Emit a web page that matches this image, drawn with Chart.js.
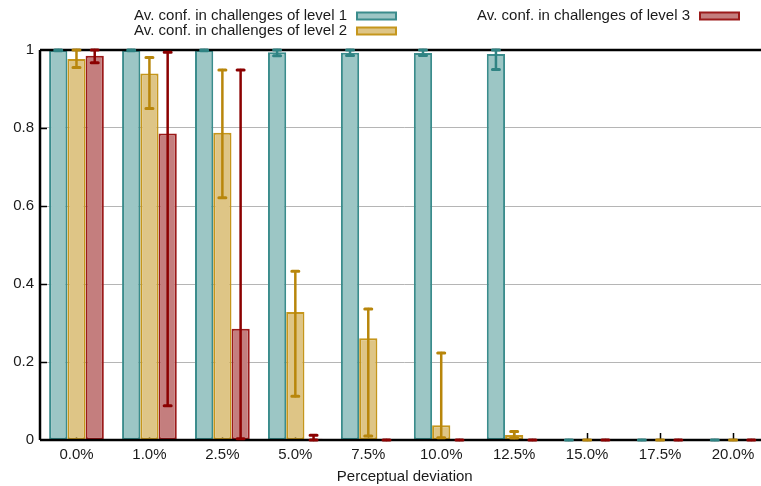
<!DOCTYPE html>
<html>
<head>
<meta charset="utf-8">
<script src="https://cdn.jsdelivr.net/npm/chart.js@4/dist/chart.umd.min.js"></script>
<style>
  html, body { margin: 0; padding: 0; background: #fff; overflow: hidden; }
  #wrap { width: 761px; height: 486px; overflow: hidden; }
</style>
</head>
<body>
<div id="wrap"><canvas id="chart" width="770" height="486"></canvas></div>
<script>
const categories = ['0.0%', '1.0%', '2.5%', '5.0%', '7.5%', '10.0%', '12.5%', '15.0%', '17.5%', '20.0%'];

const level1   = [1.0,   1.0,   1.0,   0.994, 0.993, 0.992, 0.99,  0, 0, 0];
const level1Lo = [0.998, 0.998, 0.998, 0.985, 0.986, 0.986, 0.95,  0, 0, 0];
const level1Hi = [1.0,   1.0,   1.0,   1.0,   1.0,   1.0,   1.0,   0, 0, 0];

const level2   = [0.977, 0.940, 0.788, 0.328, 0.261, 0.038, 0.013, 0, 0, 0];
const level2Lo = [0.955, 0.850, 0.621, 0.112, 0.010, 0.006, 0.005, 0, 0, 0];
const level2Hi = [1.0,   0.981, 0.949, 0.433, 0.336, 0.223, 0.022, 0, 0, 0];

const level3   = [0.985, 0.786, 0.285, 0.003, 0, 0, 0, 0, 0, 0];
const level3Lo = [0.967, 0.088, 0.003, 0,     0, 0, 0, 0, 0, 0];
const level3Hi = [1.0,   0.994, 0.949, 0.012, 0, 0, 0, 0, 0, 0];

const FONT = '"Liberation Sans", Arial, Helvetica, sans-serif';
const TEXT = '#1a1a1a';

const series = [
  { label: 'Av. conf. in challenges of level 1', data: level1, lo: level1Lo, hi: level1Hi, fill: '#9cc6c5', line: '#3a8c8c', err: '#2f8383' },
  { label: 'Av. conf. in challenges of level 2', data: level2, lo: level2Lo, hi: level2Hi, fill: '#dec586', line: '#c5961c', err: '#b8860b' },
  { label: 'Av. conf. in challenges of level 3', data: level3, lo: level3Lo, hi: level3Hi, fill: '#c47e7e', line: '#9b1a1a', err: '#8b0000' }
];

// frame, inward tics and error bars drawn over the bars
const overlayPlugin = {
  id: 'overlay',
  beforeDatasetsDraw(chart) {
    const { ctx, chartArea: a, scales } = chart;
    ctx.save();
    ctx.strokeStyle = '#000';
    ctx.lineWidth = 1.5;
    ctx.beginPath();
    [0.2, 0.4, 0.6, 0.8].forEach(v => {
      const y = Math.round(scales.y.getPixelForValue(v)) + 0.5;
      ctx.moveTo(a.left, y); ctx.lineTo(a.left + 7, y);
    });
    categories.forEach((c, i) => {
      const x = Math.round(scales.x.getPixelForValue(i)) + 0.5;
      ctx.moveTo(x, a.bottom); ctx.lineTo(x, a.bottom - 7);
    });
    ctx.stroke();
    ctx.restore();
  },
  afterDatasetsDraw(chart) {
    const { ctx, chartArea: a, scales } = chart;
    ctx.save();
    ctx.strokeStyle = '#000';
    ctx.lineWidth = 2.5;
    ctx.beginPath();
    ctx.moveTo(a.left, a.top); ctx.lineTo(a.right, a.top);
    ctx.moveTo(a.left, a.top); ctx.lineTo(a.left, a.bottom);
    ctx.moveTo(a.left, a.bottom); ctx.lineTo(a.right, a.bottom);
    ctx.stroke();

    series.forEach((s, di) => {
      const meta = chart.getDatasetMeta(di);
      ctx.strokeStyle = s.err;
      ctx.lineCap = 'round';
      meta.data.forEach((bar, i) => {
        const x = bar.x;
        const yLo = scales.y.getPixelForValue(s.lo[i]);
        const yHi = scales.y.getPixelForValue(s.hi[i]);
        ctx.lineWidth = 2.5;
        ctx.beginPath();
        ctx.moveTo(x, yLo); ctx.lineTo(x, yHi);
        ctx.stroke();
        ctx.lineWidth = 3;
        ctx.beginPath();
        ctx.moveTo(x - 3.5, yLo); ctx.lineTo(x + 3.5, yLo);
        ctx.moveTo(x - 3.5, yHi); ctx.lineTo(x + 3.5, yHi);
        ctx.stroke();
      });
    });
    ctx.restore();
  },
  afterDraw(chart) {
    const { ctx } = chart;
    const spots = [
      { tx: 347, y: 16, bx: 357 },
      { tx: 347, y: 31, bx: 357 },
      { tx: 690, y: 16, bx: 700 }
    ];
    ctx.save();
    ctx.font = '15px ' + FONT;
    ctx.textAlign = 'right';
    ctx.textBaseline = 'middle';
    series.forEach((s, i) => {
      const p = spots[i];
      ctx.fillStyle = TEXT;
      ctx.fillText(s.label, p.tx, p.y);
      ctx.fillStyle = s.fill;
      ctx.fillRect(p.bx, p.y - 3.5, 39, 7);
      ctx.strokeStyle = s.line;
      ctx.lineWidth = 2;
      ctx.strokeRect(p.bx, p.y - 3.5, 39, 7);
    });
    ctx.restore();
  }
};

new Chart(document.getElementById('chart'), {
  type: 'bar',
  data: {
    labels: categories,
    datasets: series.map(s => ({
      label: s.label,
      data: s.data,
      backgroundColor: s.fill,
      borderColor: s.line,
      borderWidth: 2,
      borderSkipped: false
    }))
  },
  options: {
    responsive: false,
    animation: false,
    layout: { padding: { top: 50, right: 0.5, left: 0, bottom: 0 } },
    datasets: { bar: { categoryPercentage: 0.75, barPercentage: 1.0 } },
    plugins: { legend: { display: false }, tooltip: { enabled: false } },
    scales: {
      x: {
        grid: { display: false, drawTicks: false },
        border: { display: false },
        ticks: { color: TEXT, font: { family: FONT, size: 15 }, padding: 6, maxRotation: 0 },
        title: { display: true, text: 'Perceptual deviation', color: TEXT, font: { family: FONT, size: 15 }, padding: { top: 5, bottom: 0 } },
        afterFit: s => { s.height = 46; }
      },
      y: {
        min: 0,
        max: 1,
        ticks: {
          stepSize: 0.2,
          color: TEXT,
          font: { family: FONT, size: 15 },
          padding: 6,
          callback: v => (v === 0 || v === 1) ? String(v) : v.toFixed(1)
        },
        grid: {
          drawTicks: false,
          color: c => (c.tick && (c.tick.value === 0 || c.tick.value === 1)) ? 'rgba(0,0,0,0)' : '#b5b5b5',
          lineWidth: 1
        },
        border: { display: false },
        afterFit: s => { s.width = 40; }
      }
    }
  },
  plugins: [overlayPlugin]
});
</script>
</body>
</html>
